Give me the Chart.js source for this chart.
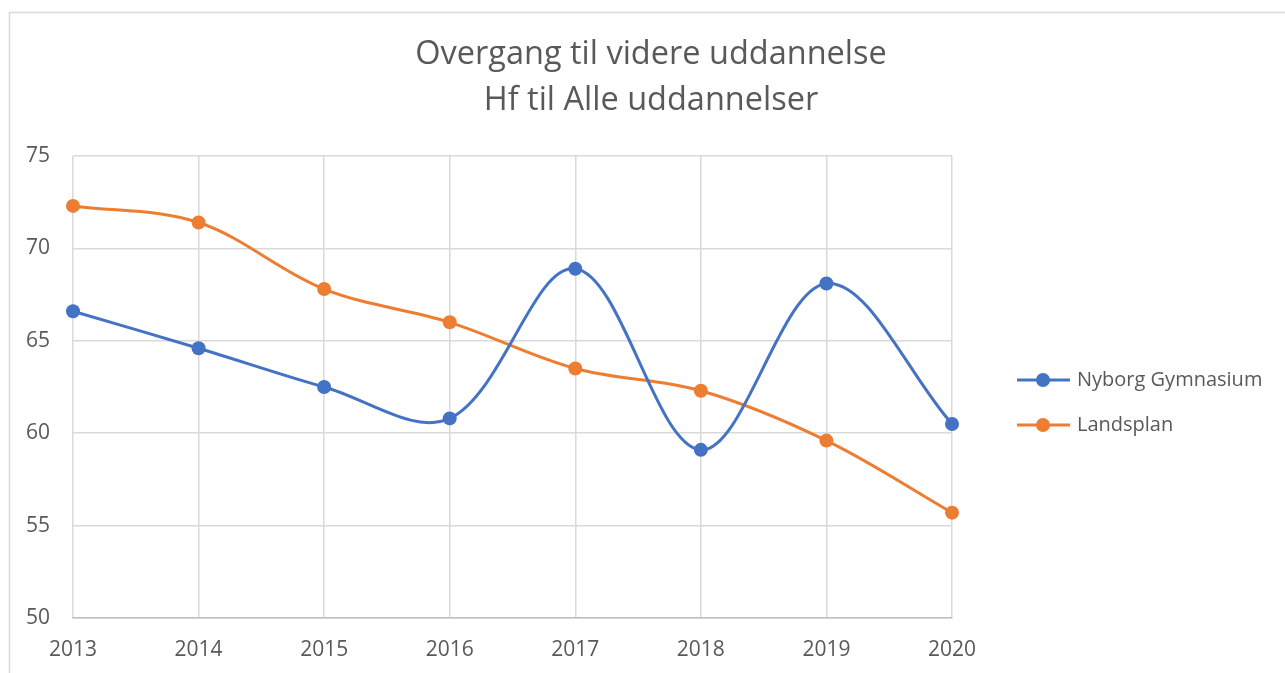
<!DOCTYPE html>
<html>
<head>
<meta charset="utf-8">
<script src="https://cdn.jsdelivr.net/npm/chart.js@4"></script>
<style>
  html, body { margin: 0; padding: 0; background: #fff; }
  #wrap { width: 1285px; height: 673px; position: relative; }
</style>
</head>
<body>
<div id="wrap"><canvas id="chart" width="1285" height="673"></canvas></div>
<script>
const years = ['2013', '2014', '2015', '2016', '2017', '2018', '2019', '2020'];
const nyborgValues = [66.6, 64.6, 62.5, 60.8, 68.9, 59.1, 68.1, 60.5];
const landsplanValues = [72.3, 71.4, 67.8, 66.0, 63.5, 62.3, 59.6, 55.7];
const titleLines = ['Overgang til videre uddannelse', 'Hf til Alle uddannelser'];
const seriesNames = ['Nyborg Gymnasium', 'Landsplan'];
const seriesColors = ['#4472C4', '#ED7D31'];

const textColor = '#595959';
const fontFamily = "'Open Sans', sans-serif";

// Frame around the whole chart area (Excel style)
const framePlugin = {
    id: 'frame',
    beforeDraw(chart) {
        const ctx = chart.ctx;
        ctx.save();
        ctx.strokeStyle = '#D9D9D9';
        ctx.lineWidth = 1.5;
        ctx.strokeRect(9.5, 12.5, 1300, 700);
        ctx.restore();
    }
};

// Title centred on the whole chart, not just the plot area
const chartTitle = {
    id: 'chartTitle',
    afterDraw(chart) {
        const ctx = chart.ctx;
        ctx.save();
        ctx.fillStyle = textColor;
        ctx.font = '32.5px ' + fontFamily;
        ctx.textAlign = 'center';
        ctx.textBaseline = 'middle';
        titleLines.forEach((line, i) => {
            ctx.fillText(line, 651, 55 + i * 46);
        });
        ctx.restore();
    }
};

// Legend drawn as line + dot, like Excel
const sideLegend = {
    id: 'sideLegend',
    afterDraw(chart) {
        const ctx = chart.ctx;
        ctx.save();
        chart.data.datasets.forEach((ds, i) => {
            const y = 380 + i * 45;
            ctx.strokeStyle = ds.borderColor;
            ctx.lineWidth = 3;
            ctx.beginPath();
            ctx.moveTo(1017, y);
            ctx.lineTo(1070, y);
            ctx.stroke();
            ctx.fillStyle = ds.borderColor;
            ctx.beginPath();
            ctx.arc(1043, y, 7, 0, Math.PI * 2);
            ctx.fill();
            ctx.fillStyle = textColor;
            ctx.font = '20px ' + fontFamily;
            ctx.textBaseline = 'middle';
            ctx.fillText(ds.label, 1077, y);
        });
        ctx.restore();
    }
};

const ctx = document.getElementById('chart').getContext('2d');
new Chart(ctx, {
    type: 'line',
    data: {
        labels: years,
        datasets: [
            {
                label: seriesNames[0],
                data: nyborgValues,
                borderColor: seriesColors[0],
                backgroundColor: seriesColors[0],
                borderWidth: 3,
                pointRadius: 7,
                pointBorderWidth: 0,
                tension: 0.35
            },
            {
                label: seriesNames[1],
                data: landsplanValues,
                borderColor: seriesColors[1],
                backgroundColor: seriesColors[1],
                borderWidth: 3,
                pointRadius: 7,
                pointBorderWidth: 0,
                tension: 0.35
            }
        ]
    },
    options: {
        responsive: false,
        animation: false,
        layout: { padding: { left: 0, right: 333, top: 156, bottom: 0 } },
        plugins: {
            legend: { display: false },
            tooltip: { enabled: false },
            title: { display: false }
        },
        scales: {
            x: {
                offset: false,
                grid: { color: '#D9D9D9', lineWidth: 1.5, drawTicks: false },
                border: { color: '#BFBFBF', width: 1.5 },
                ticks: { color: textColor, font: { family: fontFamily, size: 21 }, padding: 19, maxRotation: 0 },
                afterFit(scale) { scale.height = 55; }
            },
            y: {
                min: 50,
                max: 75,
                grid: { color: '#D9D9D9', lineWidth: 1.5, drawTicks: false },
                border: { display: false },
                ticks: { stepSize: 5, color: textColor, font: { family: fontFamily, size: 21 }, padding: 23 },
                afterFit(scale) { scale.width = 73; }
            }
        }
    },
    plugins: [framePlugin, chartTitle, sideLegend]
});
</script>
</body>
</html>
